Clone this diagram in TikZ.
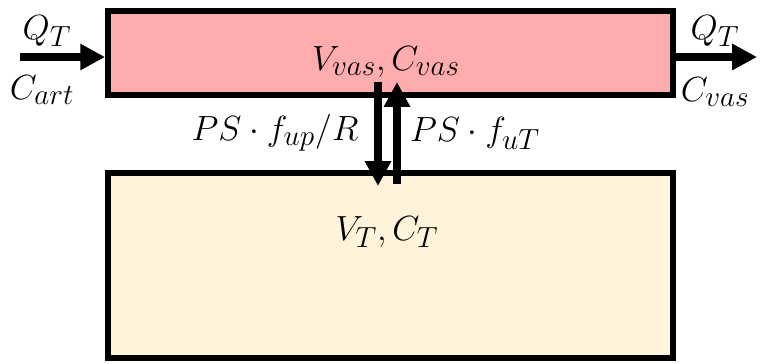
\documentclass[tikz,border=0pt]{standalone}
\usetikzlibrary{arrows.meta}
\definecolor{vaspink}{RGB}{255,172,175}
\definecolor{tisscream}{RGB}{255,243,217}
\begin{document}
\begin{tikzpicture}[x=0.025cm, y=-0.025cm,
    box/.style={rectangle, draw, line width=4pt, inner sep=0pt},
    lbl/.style={font=\Huge, inner sep=0pt},
    flow/.style={line width=5pt, -{Triangle[length=0.62cm, width=0.62cm]}}]
    \useasboundingbox (0,0) rectangle (760,363);

    \node[box, fill=vaspink, minimum width=14.125cm, minimum height=2.1cm] (vas) at (390.5,53) {};
    \node[box, fill=tisscream, minimum width=14.125cm, minimum height=4.625cm] (tis) at (390.5,265.5) {};

    \node[lbl] (vaslbl) at (386,62) {$V_{vas}, C_{vas}$};
    \node[lbl] (tislbl) at (387,232) {$V_T, C_T$};
    \node[lbl] (qin) at (47,31) {$Q_T$};
    \node[lbl] (cin) at (42,90) {$C_{art}$};
    \node[lbl] (qout) at (715,31) {$Q_T$};
    \node[lbl] (cout) at (715,92) {$C_{vas}$};
    \node[lbl] (upr) at (275,133) {$PS \cdot f_{up}/R$};
    \node[lbl] (uT) at (475,133) {$PS \cdot f_{uT}$};

    \coordinate (src) at (20,57);
    \coordinate (snk) at (757,57);
    \coordinate (dtop) at (378,82);
    \coordinate (dbot) at (378,186);
    \coordinate (utop) at (397,82);
    \coordinate (ubot) at (397,184);

    \draw[flow] (src) -- (vas.west |- src);
    \draw[flow] (vas.east |- snk) -- (snk);
    \draw[flow] (dtop) -- (dbot);
    \draw[flow] (ubot) -- (utop);
\end{tikzpicture}
\end{document}
